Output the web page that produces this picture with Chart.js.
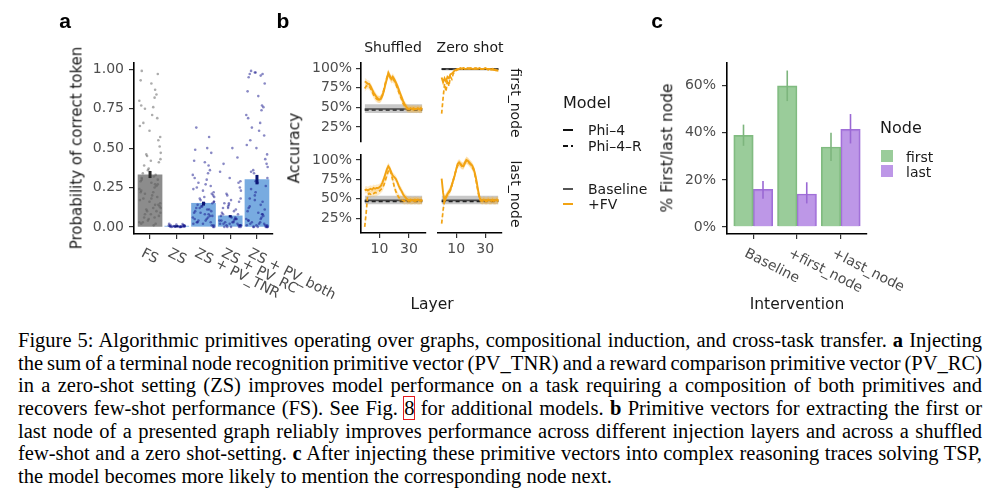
<!DOCTYPE html>
<html>
<head>
<meta charset="utf-8">
<script src="https://cdn.jsdelivr.net/npm/chart.js@4.4.1/dist/chart.umd.min.js"></script>
<style>
  body { margin: 0; width: 1000px; height: 499px; overflow: hidden; position: relative; background: #fff; font-family: 'DejaVu Sans', sans-serif; }
  canvas { position: absolute; }
  .lab { position: absolute; white-space: nowrap; line-height: 1; }
  .key { position: absolute; height: 2px; }
  .cap { position: absolute; left: 18px; font-family: 'Liberation Serif', serif; font-size: 20.5px; line-height: 22px; white-space: nowrap; color: #000; }
  .ref { outline: 1px solid #e41a1c; outline-offset: 0px; }
</style>
</head>
<body>
<canvas id="cA" width="380" height="320" style="left:0;top:0"></canvas>
<canvas id="f1" width="135" height="125" style="left:300px;top:40px"></canvas>
<canvas id="f2" width="80" height="125" style="left:430px;top:40px"></canvas>
<canvas id="f3" width="135" height="190" style="left:300px;top:130px"></canvas>
<canvas id="f4" width="80" height="190" style="left:430px;top:130px"></canvas>
<canvas id="cC" width="320" height="320" style="left:600px;top:0"></canvas>

<div class="cap" style="top:329px">Figure 5: Algorithmic primitives operating over graphs, compositional induction, and cross-task transfer. <b>a</b> Injecting</div>
<div class="cap" style="top:351.7px">the sum of a terminal node recognition primitive vector (PV_TNR) and a reward comparison primitive vector (PV_RC)</div>
<div class="cap" style="top:374.3px">in a zero-shot setting (ZS) improves model performance on a task requiring a composition of both primitives and</div>
<div class="cap" style="top:397px">recovers few-shot performance (FS). See Fig. <span class="ref">8</span> for additional models. <b>b</b> Primitive vectors for extracting the first or</div>
<div class="cap" style="top:419.7px">last node of a presented graph reliably improves performance across different injection layers and across a shuffled</div>
<div class="cap" style="top:442.3px">few-shot and a zero shot-setting. <b>c</b> After injecting these primitive vectors into complex reasoning traces solving TSP,</div>
<div class="cap" style="top:465px">the model becomes more likely to mention the corresponding node next.</div>

<script>
// ---------- panel a: probability of correct token
const condLabels = ['FS', 'ZS', 'ZS + PV_TNR', 'ZS + PV_RC', 'ZS + PV_both'];
const probMean = [0.33, 0.005, 0.15, 0.07, 0.30];
const probLo = [0.31, 0.0, 0.135, 0.06, 0.27];
const probHi = [0.355, 0.01, 0.16, 0.075, 0.33];
const probTicks = [0, 0.25, 0.5, 0.75, 1];

const fsPts = [0.99,0.97,0.93,0.91,0.87,0.84,0.82,0.80,0.77,0.76,0.75,0.71,0.69,0.66,0.64,0.61,0.57,0.55,0.51,0.47,
  0.46,0.45,0.43,0.42,0.41,0.39,0.37,0.36,0.34,0.33,0.32,0.31,0.30,0.29,0.28,0.27,0.26,0.25,0.24,0.23,
  0.22,0.21,0.20,0.19,0.18,0.17,0.16,0.15,0.14,0.13,0.12,0.11,0.10,0.09,0.08,0.07,0.06,0.05,0.04,0.03,
  0.02,0.01,0.30,0.27,0.22,0.18,0.14,0.10,0.06,0.03,0.02,0.12,0.08];
const zsPts = [0.02,0.015,0.01,0.01,0.008,0.005,0.005,0.004,0.003,0.003,0.002,0.002,0.001,0.001,0.0,0.0,0.0,
  0.012,0.018,0.006,0.004,0.002,0.001,0.0,0.009,0.003];
const tnrPts = [0.63,0.57,0.50,0.49,0.47,0.42,0.41,0.39,0.36,0.34,0.33,0.31,0.30,0.28,0.27,0.26,0.25,0.24,0.23,0.22,
  0.21,0.20,0.19,0.18,0.17,0.16,0.15,0.15,0.14,0.13,0.13,0.12,0.11,0.11,0.10,0.10,0.09,0.08,0.08,0.07,
  0.06,0.06,0.05,0.05,0.04,0.04,0.03,0.03,0.02,0.02,0.01,0.01,0.0,0.0,0.12,0.09,0.16,0.19,0.07,0.03];
const rcPts = [0.50,0.44,0.40,0.35,0.31,0.29,0.28,0.25,0.23,0.21,0.20,0.18,0.17,0.16,0.15,0.14,0.13,0.12,0.11,0.10,
  0.09,0.08,0.07,0.06,0.06,0.05,0.05,0.04,0.04,0.03,0.03,0.03,0.02,0.02,0.02,0.02,0.01,0.01,0.01,0.01,
  0.01,0.0,0.0,0.0,0.0,0.0,0.15,0.12,0.08,0.05,0.04];
const bothPts = [0.99,0.98,0.98,0.97,0.97,0.96,0.95,0.91,0.86,0.83,0.77,0.76,0.74,0.71,0.69,0.66,0.63,0.61,0.58,0.55,
  0.52,0.50,0.46,0.43,0.40,0.38,0.36,0.34,0.31,0.28,0.26,0.24,0.22,0.20,0.18,0.16,0.14,0.12,0.11,0.10,
  0.09,0.08,0.07,0.06,0.05,0.04,0.03,0.03,0.02,0.02,0.02,0.01,0.01,0.01,0.01,0.0,0.0,0.0,0.0,0.0,
  0.0,0.0,0.35,0.29,0.17,0.13,0.08,0.05,0.04];

// ---------- panel b: accuracy by injection layer
const layers = [0,1,2,3,4,5,6,7,8,9,10,11,12,13,14,15,16,17,18,19,20,21,22,23,24,25,26,27,28,29,30,31,32,33,34,35,36,37,38,39];
const shufFirstPhi = [0.83,0.82,0.80,0.80,0.77,0.73,0.69,0.66,0.63,0.61, 0.60,0.61,0.65,0.71,0.79,0.86,0.94,0.90,0.86,0.89,
  0.86,0.82,0.78,0.73,0.68,0.63,0.58,0.54,0.51,0.49, 0.48,0.49,0.48,0.49,0.48,0.48,0.49,0.48,0.49,0.48];
const shufFirstPhiR = [0.74,0.77,0.78,0.77,0.74,0.70,0.66,0.63,0.61,0.60, 0.60,0.62,0.66,0.73,0.81,0.88,0.92,0.89,0.85,0.86,
  0.84,0.80,0.75,0.70,0.65,0.60,0.55,0.52,0.50,0.48, 0.48,0.47,0.48,0.47,0.48,0.47,0.48,0.47,0.47,0.48];
const zeroFirstPhi = [0.88,0.82,0.87,0.83,0.89,0.87,0.92,0.93,0.95,0.97, 0.98,0.99,0.99,1.00,0.99,1.00,0.99,0.99,1.00,0.99,
  1.00,0.99,0.99,1.00,0.99,0.99,1.00,0.99,0.99,0.99, 1.00,0.99,0.99,0.99,0.98,0.99,0.98,0.98,0.97,0.97];
const zeroFirstPhiR = [0.42,0.62,0.80,0.70,0.85,0.77,0.89,0.86,0.93,0.95, 0.97,0.98,0.99,0.99,0.99,1.00,0.99,0.99,0.99,1.00,
  0.99,0.99,0.99,0.99,1.00,0.99,0.99,0.99,0.99,0.99, 0.99,0.99,0.98,0.99,0.98,0.98,0.98,0.97,0.97,0.96];
const shufLastPhi = [0.61,0.62,0.61,0.62,0.63,0.62,0.64,0.63,0.64,0.64, 0.65,0.67,0.71,0.76,0.82,0.88,0.92,0.89,0.84,0.80,
  0.78,0.76,0.72,0.67,0.63,0.60,0.56,0.53,0.51,0.49, 0.48,0.49,0.48,0.48,0.49,0.48,0.49,0.48,0.48,0.49];
const shufLastPhiR = [0.14,0.32,0.55,0.57,0.56,0.58,0.57,0.58,0.58,0.59, 0.60,0.62,0.64,0.68,0.74,0.80,0.86,0.88,0.82,0.74,
  0.66,0.60,0.56,0.52,0.50,0.49,0.48,0.47,0.48,0.47, 0.48,0.47,0.47,0.48,0.47,0.48,0.47,0.47,0.48,0.47];
const zeroLastPhi = [0.76,0.58,0.47,0.52,0.56,0.59,0.62,0.68,0.74,0.80, 0.88,0.95,0.97,0.95,0.93,0.92,0.96,1.00,0.99,0.97,
  0.95,0.93,0.89,0.82,0.73,0.62,0.52,0.48,0.48,0.49, 0.48,0.48,0.49,0.48,0.48,0.49,0.48,0.48,0.49,0.48];
const zeroLastPhiR = [0.18,0.35,0.50,0.53,0.55,0.58,0.61,0.67,0.74,0.81, 0.88,0.93,0.96,0.94,0.92,0.93,0.97,0.99,0.98,0.96,
  0.94,0.91,0.87,0.80,0.70,0.59,0.50,0.48,0.47,0.48, 0.47,0.47,0.48,0.47,0.47,0.48,0.47,0.47,0.48,0.47];
// facets in order: shuffled/first, zero/first, shuffled/last, zero/last
const basePhi  = [0.48, 0.99, 0.48, 0.48];
const basePhiR = [0.465, 0.985, 0.465, 0.465];
const baseLo   = [0.43, 0.97, 0.43, 0.43];
const baseHi   = [0.54, 1.00, 0.54, 0.54];
const fvHalf   = [0.045, 0.01, 0.045, 0.045];
const accTicks = [0.25, 0.5, 0.75, 1];
const layerTicks = [10, 30];

// ---------- panel c: first / last node mentions
const interventions = ['Baseline', '+first_node', '+last_node'];
const firstPct = [0.39, 0.60, 0.34];
const firstLo  = [0.345, 0.535, 0.28];
const firstHi  = [0.435, 0.665, 0.40];
const lastPct  = [0.16, 0.14, 0.415];
const lastLo   = [0.12, 0.10, 0.355];
const lastHi   = [0.195, 0.19, 0.48];
const pctTicks = [0, 0.2, 0.4, 0.6];

Chart.defaults.font.family = 'DejaVu Sans';
Chart.defaults.font.size = 14;
Chart.defaults.animation = false;
Chart.defaults.plugins.legend.display = false;
Chart.defaults.plugins.tooltip.enabled = false;

const ORANGE = '#f2a313';

// ggplot-classic style axis
function axis(tickList, fmt, extra) {
  return Object.assign({
    type: 'linear',
    offset: false,
    border: { display: true, color: '#000', width: 1.6 },
    grid: { drawOnChartArea: false, drawTicks: true, tickLength: 5, color: '#333', lineWidth: 1.2, offset: false },
    ticks: { color: '#4d4d4d', padding: 5, callback: fmt, font: { size: 14 } },
    afterBuildTicks: s => { s.ticks = tickList.map(v => ({ value: v })); }
  }, extra);
}

// category labels slanted downwards, like the ggplot version
function slantLabels(names) {
  return {
    id: 'slant',
    afterDraw(chart) {
      const ctx = chart.ctx, xs = chart.scales.x;
      ctx.save();
      ctx.font = '14px "DejaVu Sans"';
      ctx.fillStyle = '#4d4d4d';
      names.forEach((n, i) => {
        ctx.save();
        ctx.translate(xs.getPixelForValue(i + 1) - 5, chart.chartArea.bottom + 13);
        ctx.rotate(27 * Math.PI / 180);
        ctx.fillText(n, 0, 10);
        ctx.restore();
      });
      ctx.restore();
    }
  };
}

// vertical error bars on top of bar elements
function errorBars(sets) {
  return {
    id: 'errbars',
    afterDatasetsDraw(chart) {
      const ctx = chart.ctx, ys = chart.scales.y;
      sets.forEach(s => {
        chart.getDatasetMeta(s.ds).data.forEach((bar, i) => {
          ctx.save();
          ctx.strokeStyle = Array.isArray(s.color) ? s.color[i] : s.color;
          ctx.lineWidth = s.width;
          ctx.beginPath();
          ctx.moveTo(bar.x, ys.getPixelForValue(s.lo[i]));
          ctx.lineTo(bar.x, ys.getPixelForValue(s.hi[i]));
          ctx.stroke();
          ctx.restore();
        });
      });
    }
  };
}

// ---------- panel a chart
const jit = [-0.31, 0.12, 0.36, -0.08, 0.24, -0.38, 0.03, 0.29, -0.19, 0.40, -0.27, 0.17, -0.02, 0.33, -0.35, 0.08,
  -0.14, 0.21, -0.40, 0.38, -0.22, 0.05, 0.27, -0.11, 0.14, -0.33, 0.31, -0.05, 0.19, -0.25, 0.39];
const ptSets = [fsPts, zsPts, tnrPts, rcPts, bothPts];
const jitScale = [1, 0.75, 1, 1, 1];
const scatterSets = ptSets.map((arr, c) => ({
  type: 'scatter',
  data: arr.map((v, i) => ({ x: c + 1 + jit[(i * 7 + c * 5) % jit.length] * jitScale[c], y: v })),
  pointRadius: 1.3,
  pointBorderWidth: 0,
  backgroundColor: c === 0 ? 'rgba(90,90,90,0.5)' : 'rgba(20,20,140,0.5)',
  order: 1
}));

new Chart(document.getElementById('cA'), {
  type: 'bar',
  data: {
    datasets: [{
      type: 'bar',
      data: probMean.map((v, i) => ({ x: i + 1, y: v })),
      backgroundColor: ['#8c8c8c', '#78abe0', '#78abe0', '#78abe0', '#78abe0'],
      barThickness: 24,
      order: 2
    }].concat(scatterSets)
  },
  options: {
    responsive: false,
    layout: { padding: { top: 63, right: 107, left: 0, bottom: 0 } },
    scales: {
      x: axis([1, 2, 3, 4, 5], null, {
        min: 0.4, max: 5.6,
        ticks: { display: false },
        afterFit: s => { s.height = 86; }
      }),
      y: axis(probTicks, v => v.toFixed(2), {
        min: -0.045, max: 1.04,
        afterFit: s => { s.width = 134; }
      })
    }
  },
  plugins: [
    slantLabels(condLabels),
    errorBars([{ ds: 0, lo: probLo, hi: probHi, color: ['#2b2b2b', '#0b1675', '#0b1675', '#0b1675', '#0b1675'], width: 3 }])
  ]
});

// ---------- panel b facets
const pts = arr => arr.map((v, i) => ({ x: layers[i], y: v }));
const flat = v => [{ x: layers[0], y: v }, { x: layers[layers.length - 1], y: v }];
const hidden = { borderColor: 'transparent', pointRadius: 0, fill: false };

function facet(id, f, phi, phiR, pad, showX, showY, xH, yW) {
  new Chart(document.getElementById(id), {
    type: 'line',
    data: {
      datasets: [
        Object.assign({ data: flat(baseLo[f]), order: 9 }, hidden),
        { data: flat(baseHi[f]), borderColor: 'transparent', pointRadius: 0, fill: '-1', backgroundColor: 'rgba(110,110,110,0.38)', order: 9 },
        { data: flat(basePhiR[f]), borderColor: '#222', borderWidth: 1.4, borderDash: [4, 3], pointRadius: 0, fill: false, order: 8 },
        { data: flat(basePhi[f]), borderColor: '#4a4a4a', borderWidth: 1.6, pointRadius: 0, fill: false, order: 8 },
        Object.assign({ data: pts(phiR.map(v => v - fvHalf[f])), order: 7 }, hidden),
        { data: pts(phiR.map(v => v + fvHalf[f])), borderColor: 'transparent', pointRadius: 0, fill: '-1', backgroundColor: 'rgba(250,175,40,0.25)', order: 7 },
        Object.assign({ data: pts(phi.map(v => v - fvHalf[f])), order: 7 }, hidden),
        { data: pts(phi.map(v => v + fvHalf[f])), borderColor: 'transparent', pointRadius: 0, fill: '-1', backgroundColor: 'rgba(250,175,40,0.25)', order: 7 },
        { data: pts(phiR), borderColor: ORANGE, borderWidth: 1.7, borderDash: [4, 2.5], pointRadius: 0, fill: false, order: 6 },
        { data: pts(phi), borderColor: ORANGE, borderWidth: 1.9, pointRadius: 0, fill: false, order: 5 }
      ]
    },
    options: {
      responsive: false,
      layout: { padding: pad },
      scales: {
        x: axis(layerTicks, v => String(v), {
          min: -2.5, max: 41.5, display: showX,
          ticks: { color: '#4d4d4d', padding: 3, font: { size: 14 } },
          afterFit: s => { s.height = xH; }
        }),
        y: axis(accTicks, v => Math.round(v * 100) + '%', {
          min: 0.06, max: 1.065, display: showY,
          ticks: { color: '#4d4d4d', padding: 4, font: { size: 14 }, callback: v => Math.round(v * 100) + '%' },
          afterFit: s => { s.width = yW; }
        })
      }
    }
  });
}

facet('f1', 0, shufFirstPhi, shufFirstPhiR, { top: 23, right: 9, left: 0, bottom: 23 }, false, true, 0, 61);
facet('f2', 1, zeroFirstPhi, zeroFirstPhiR, { top: 23, right: 8, left: 8, bottom: 23 }, false, false, 0, 0);
facet('f3', 2, shufLastPhi, shufLastPhiR, { top: 25, right: 9, left: 0, bottom: 0 }, true, true, 87, 61);
facet('f4', 3, zeroLastPhi, zeroLastPhiR, { top: 25, right: 8, left: 8, bottom: 0 }, true, false, 87, 0);

// ---------- panel c chart
new Chart(document.getElementById('cC'), {
  type: 'bar',
  data: {
    datasets: [
      { label: 'first', data: firstPct.map((v, i) => ({ x: i + 1, y: v })), backgroundColor: 'rgba(143,198,143,0.9)', borderColor: '#80bb80', borderWidth: 1.5, barThickness: 19.5 },
      { label: 'last', data: lastPct.map((v, i) => ({ x: i + 1, y: v })), backgroundColor: 'rgba(182,140,228,0.9)', borderColor: '#a06fd8', borderWidth: 1.5, barThickness: 19.5 }
    ]
  },
  options: {
    responsive: false,
    layout: { padding: { top: 63, right: 53, left: 0, bottom: 0 } },
    scales: {
      x: axis([1, 2, 3], null, {
        min: 0.4, max: 3.6,
        ticks: { display: false },
        afterFit: s => { s.height = 86; }
      }),
      y: axis(pctTicks, v => Math.round(v * 100) + '%', {
        min: -0.03, max: 0.697,
        ticks: { color: '#4d4d4d', padding: 6, font: { size: 14 }, callback: v => Math.round(v * 100) + '%' },
        afterFit: s => { s.width = 127; }
      })
    }
  },
  plugins: [
    slantLabels(interventions),
    errorBars([
      { ds: 0, lo: firstLo, hi: firstHi, color: '#7db57d', width: 1.6 },
      { ds: 1, lo: lastLo, hi: lastHi, color: '#9a68d4', width: 1.6 }
    ])
  ]
});

// ---------- text: titles, strips, legends, panel letters
const centred = [
  ['a', 65, 20, 21, 0, 700], ['b', 283, 20, 21, 0, 700], ['c', 657, 20, 21, 0, 700],
  ['Probability of correct token', 77, 148, 15, -90],
  ['Shuffled', 393, 47, 14], ['Zero shot', 470, 47, 14],
  ['first_node', 516, 103, 14, 90], ['last_node', 516, 194, 14, 90],
  ['Accuracy', 295, 148, 15.5, -90], ['Layer', 432, 305, 15.5],
  ['% First/last node', 668, 148, 15.5, -90], ['Intervention', 797, 305, 15.5]
];
centred.forEach(([t, x, y, size, rot, w]) => {
  const d = document.createElement('div');
  d.className = 'lab';
  d.textContent = t;
  d.style.cssText = `left:${x}px;top:${y}px;font-size:${size}px;color:#1a1a1a;` +
    `transform:translate(-50%,-50%) rotate(${rot || 0}deg);` +
    (w ? `font-weight:${w};font-family:"Liberation Sans",sans-serif;color:#000;` : '');
  document.body.appendChild(d);
});
const lefted = [
  ['Model', 563, 103, 16], ['Phi–4', 588, 130, 14], ['Phi–4–R', 588, 146, 14],
  ['Baseline', 588, 189, 14], ['+FV', 588, 204, 14],
  ['Node', 880, 128, 16], ['first', 906, 157, 14], ['last', 906, 172, 14]
];
lefted.forEach(([t, x, y, size]) => {
  const d = document.createElement('div');
  d.className = 'lab';
  d.textContent = t;
  d.style.cssText = `left:${x}px;top:${y}px;font-size:${size}px;color:#1a1a1a;transform:translateY(-50%);`;
  document.body.appendChild(d);
});
const keys = [
  [563, 129, 10, 2, '#111'], [563, 145, 5, 2, '#111'], [570.5, 145, 2.5, 2, '#111'],
  [563, 188, 10, 2, '#555'], [563, 203, 10, 2, ORANGE],
  [881, 150, 12, 12, 'rgba(143,198,143,0.9)'], [881, 165, 12, 12, 'rgba(182,140,228,0.9)']
];
keys.forEach(([x, y, w, h, c]) => {
  const d = document.createElement('div');
  d.className = 'key';
  d.style.cssText = `left:${x}px;top:${y}px;width:${w}px;height:${h}px;background:${c};`;
  document.body.appendChild(d);
});

// justify caption lines (all but the last) to the text block width
document.fonts.ready.then(() => {
  const lines = document.querySelectorAll('.cap');
  lines.forEach((el, i) => {
    if (i === lines.length - 1) return;
    const n = (el.textContent.match(/ /g) || []).length;
    const w = el.getBoundingClientRect().width;
    el.style.wordSpacing = ((964 - w) / n) + 'px';
  });
});
</script>
</body>
</html>
